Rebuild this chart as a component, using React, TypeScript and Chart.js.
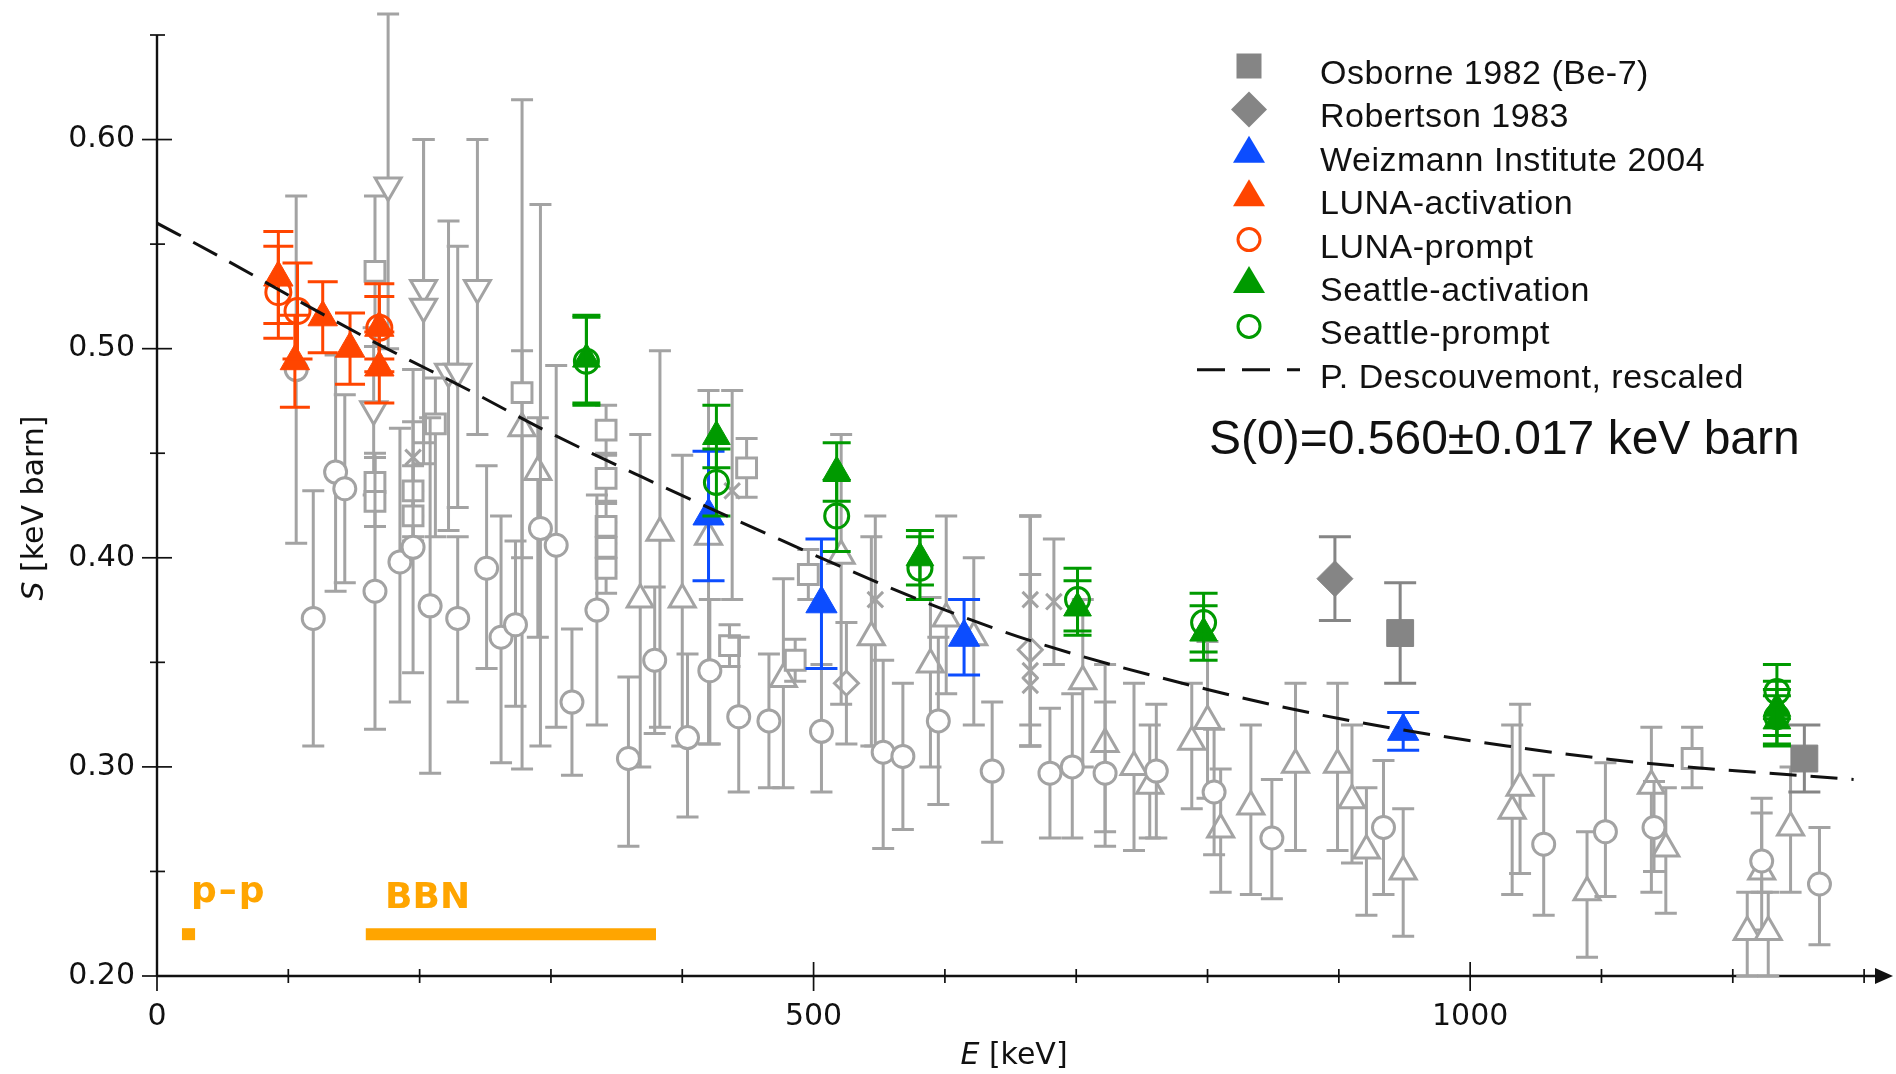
import React, { useEffect, useRef } from 'react';
import { Chart, registerables } from 'chart.js';

Chart.register(...registerables);

// ---------------- axis values ----------------
const xTickLabels = [0, 500, 1000];
const xMinorTicks = [0, 100, 200, 300, 400, 500, 600, 700, 800, 900, 1000, 1100, 1200, 1300];
const yTickLabels = [0.2, 0.3, 0.4, 0.5, 0.6];
const yMinorTicks = [0.2, 0.25, 0.3, 0.35, 0.4, 0.45, 0.5, 0.55, 0.6, 0.65];

// ---------------- highlighted data sets ----------------
const osborneE = [946.7, 1254.5];
const osborneS = [0.364, 0.304];
const osborneErr = [0.024, 0.016];

const robertsonE = [897];
const robertsonS = [0.39];
const robertsonErr = [0.02];

const weizmannE = [420, 506, 614.6, 949];
const weizmannS = [0.42, 0.378, 0.362, 0.317];
const weizmannErr = [0.031, 0.031, 0.018, 0.009];

const lunaActE = [92.4, 105, 126.2, 147, 169.3, 169.3];
const lunaActS = [0.534, 0.494, 0.515, 0.5, 0.51, 0.491];
const lunaActErr = [0.022, 0.022, 0.017, 0.017, 0.015, 0.017];

const lunaPromptE = [92.4, 107, 169.3];
const lunaPromptS = [0.527, 0.518, 0.51];
const lunaPromptErr = [0.022, 0.023, 0.021];

const seattleActE = [327, 426, 517.6, 581, 701, 797, 1233.6, 1233.6];
const seattleActS = [0.495, 0.458, 0.441, 0.4, 0.376, 0.364, 0.328, 0.322];
const seattleActErr = [0.021, 0.015, 0.014, 0.013, 0.013, 0.013, 0.013, 0.012];

const seattlePromptE = [327, 426, 517.6, 581, 701, 797, 1233.6, 1233.6];
const seattlePromptS = [0.494, 0.436, 0.42, 0.395, 0.38, 0.369, 0.336, 0.324];
const seattlePromptErr = [0.021, 0.016, 0.017, 0.015, 0.015, 0.014, 0.013, 0.013];

// ---------------- theory curve (P. Descouvemont, rescaled) ----------------
const curveE = [0, 45, 116, 172, 238, 292, 368, 420, 459, 520, 596, 672, 800, 901, 1028, 1130, 1292];
const curveS = [0.56, 0.545, 0.52, 0.501, 0.48, 0.462, 0.439, 0.424, 0.413, 0.396, 0.376, 0.359, 0.337, 0.323, 0.31, 0.302, 0.294];

// ---------------- energy ranges ----------------
const ppRangeE = [19, 29];
const bbnRangeE = [159, 380];
const rangeS = 0.22;

// ---------------- older data (grey) ----------------
const greyCircleE = [106, 119, 136, 143, 166, 185, 195, 208, 229, 251, 262, 273, 292, 304, 316, 335, 359, 379, 404, 421, 443, 466, 506, 553, 568, 595, 636, 680, 697, 722, 761, 805, 849, 934, 1056, 1103, 1140, 1222, 1266];
const greyCircleS = [0.49, 0.371, 0.441, 0.433, 0.384, 0.398, 0.405, 0.377, 0.371, 0.395, 0.362, 0.368, 0.414, 0.406, 0.331, 0.375, 0.304, 0.351, 0.314, 0.346, 0.324, 0.322, 0.317, 0.307, 0.305, 0.322, 0.298, 0.297, 0.3, 0.297, 0.298, 0.288, 0.266, 0.271, 0.263, 0.269, 0.271, 0.255, 0.244];
const greyCircleLo = [0.407, 0.31, 0.384, 0.388, 0.318, 0.331, 0.345, 0.297, 0.331, 0.347, 0.302, 0.329, 0.31, 0.319, 0.296, 0.32, 0.262, 0.316, 0.276, 0.311, 0.288, 0.29, 0.288, 0.261, 0.27, 0.282, 0.264, 0.266, 0.266, 0.269, 0.266, 0.258, 0.237, 0.239, 0.229, 0.238, 0.25, 0.24, 0.215];
const greyCircleHi = [0.573, 0.432, 0.497, 0.478, 0.45, 0.462, 0.465, 0.467, 0.41, 0.444, 0.42, 0.408, 0.569, 0.492, 0.366, 0.43, 0.343, 0.386, 0.354, 0.38, 0.362, 0.354, 0.349, 0.351, 0.34, 0.362, 0.331, 0.328, 0.335, 0.331, 0.33, 0.318, 0.294, 0.303, 0.296, 0.302, 0.293, 0.285, 0.271];

const greySquareE = [166, 166, 166, 195, 195, 212, 278, 342, 342, 342, 342, 342, 436, 449, 486, 496, 1169];
const greySquareS = [0.537, 0.436, 0.427, 0.432, 0.42, 0.464, 0.479, 0.461, 0.438, 0.415, 0.405, 0.395, 0.358, 0.443, 0.351, 0.392, 0.304];
const greySquareLo = [0.501, 0.424, 0.415, 0.42, 0.408, 0.41, 0.299, 0.449, 0.426, 0.403, 0.393, 0.383, 0.348, 0.429, 0.341, 0.38, 0.29];
const greySquareHi = [0.573, 0.448, 0.439, 0.444, 0.432, 0.486, 0.619, 0.473, 0.45, 0.427, 0.417, 0.407, 0.368, 0.457, 0.361, 0.404, 0.319];

const greyTriE = [278, 290, 368, 383, 400, 420, 477, 521, 544, 589, 601, 622, 705, 722, 744, 756, 788, 800, 810, 833, 867, 899, 910, 921, 949, 1032, 1038, 1089, 1138, 1149, 1211, 1222, 1227, 1244];
const greyTriS = [0.462, 0.441, 0.38, 0.412, 0.38, 0.41, 0.342, 0.401, 0.362, 0.349, 0.371, 0.362, 0.341, 0.311, 0.3, 0.291, 0.312, 0.322, 0.27, 0.281, 0.301, 0.301, 0.284, 0.26, 0.25, 0.279, 0.29, 0.24, 0.291, 0.261, 0.221, 0.25, 0.221, 0.271];
const greyTriLo = [0.4, 0.362, 0.3, 0.319, 0.31, 0.311, 0.29, 0.33, 0.31, 0.3, 0.335, 0.32, 0.3, 0.262, 0.26, 0.266, 0.28, 0.285, 0.24, 0.239, 0.26, 0.26, 0.254, 0.229, 0.219, 0.239, 0.249, 0.209, 0.24, 0.23, 0.2, 0.222, 0.2, 0.24];
const greyTriHi = [0.499, 0.467, 0.459, 0.499, 0.449, 0.48, 0.39, 0.459, 0.41, 0.381, 0.42, 0.4, 0.38, 0.349, 0.34, 0.32, 0.34, 0.36, 0.299, 0.32, 0.34, 0.34, 0.32, 0.29, 0.28, 0.32, 0.33, 0.269, 0.319, 0.29, 0.24, 0.278, 0.24, 0.3];

const greyInvE = [165, 176, 203, 203, 222, 229, 244];
const greyInvS = [0.471, 0.578, 0.529, 0.52, 0.489, 0.489, 0.529];
const greyInvLo = [0.43, 0.5, 0.455, 0.445, 0.413, 0.424, 0.459];
const greyInvHi = [0.51, 0.66, 0.6, 0.6, 0.561, 0.549, 0.6];

const greyCrossE = [195, 438, 547, 665, 665, 665, 683];
const greyCrossS = [0.448, 0.432, 0.38, 0.38, 0.346, 0.339, 0.379];
const greyCrossLo = [0.41, 0.38, 0.31, 0.31, 0.31, 0.31, 0.349];
const greyCrossHi = [0.49, 0.48, 0.42, 0.42, 0.42, 0.42, 0.409];

const greyDiamondE = [525, 665];
const greyDiamondS = [0.34, 0.356];
const greyDiamondLo = [0.311, 0.32];
const greyDiamondHi = [0.369, 0.392];

// ---------------- styling ----------------
const GREY = '#a3a3a3';
const DARK_GREY = '#858585';
const RED = '#ff4500';
const BLUE = '#0c4dff';
const GREEN = '#009a00';
const ORANGE = '#ffa500';
const TXT = '#111111';

const pts = (E: number[], S: number[]) => E.map((e, i) => ({ x: e, y: S[i] }));
const sub = (S: number[], err: number[]) => S.map((s, i) => s - err[i]);
const add = (S: number[], err: number[]) => S.map((s, i) => s + err[i]);

const errorBarPlugin = {
  id: 'errorBars',
  beforeDatasetDraw(chart: any, args: any) {
    const ds = chart.data.datasets[args.index];
    if (!ds.errLo) return;
    const ctx = chart.ctx;
    const yScale = chart.scales.y;
    ctx.save();
    ctx.strokeStyle = ds.errColor;
    ctx.lineWidth = ds.errWidth || 3;
    ctx.lineCap = 'butt';
    args.meta.data.forEach((p: any, i: number) => {
      const x = p.x;
      const yl = yScale.getPixelForValue(ds.errLo[i]);
      const yh = yScale.getPixelForValue(ds.errHi[i]);
      const c = ds.capHalf;
      ctx.beginPath();
      ctx.moveTo(x, yl);
      ctx.lineTo(x, yh);
      ctx.moveTo(x - c, yl);
      ctx.lineTo(x + c, yl);
      ctx.moveTo(x - c, yh);
      ctx.lineTo(x + c, yh);
      ctx.stroke();
    });
    ctx.restore();
  },
};

const axesPlugin = {
  id: 'customAxes',
  beforeDatasetsDraw(chart: any) {
    const { ctx, chartArea } = chart;
    const xs = chart.scales.x;
    const ys = chart.scales.y;
    const x0 = xs.getPixelForValue(0);
    const yb = ys.getPixelForValue(0.2);
    const yt = ys.getPixelForValue(0.65);
    const xr = chartArea.right;
    ctx.save();
    ctx.strokeStyle = TXT;
    ctx.fillStyle = TXT;
    ctx.lineWidth = 2.4;
    ctx.beginPath();
    ctx.moveTo(x0, yb);
    ctx.lineTo(x0, yt);
    ctx.moveTo(x0, yb);
    ctx.lineTo(xr - 12, yb);
    ctx.stroke();
    ctx.beginPath();
    ctx.moveTo(xr, yb);
    ctx.lineTo(xr - 18, yb - 8);
    ctx.lineTo(xr - 18, yb + 8);
    ctx.closePath();
    ctx.fill();
    ctx.lineWidth = 1.7;
    yMinorTicks.forEach((v) => {
      const py = ys.getPixelForValue(v);
      const major = yTickLabels.some((t) => Math.abs(t - v) < 1e-6);
      ctx.beginPath();
      ctx.moveTo(x0 - (major ? 15 : 7), py);
      ctx.lineTo(x0 + (major ? 15 : 8), py);
      ctx.stroke();
    });
    xMinorTicks.forEach((v) => {
      const px = xs.getPixelForValue(v);
      const major = xTickLabels.includes(v);
      ctx.beginPath();
      ctx.moveTo(px, yb - (major ? 14 : 7));
      ctx.lineTo(px, yb + (major ? 15 : 7));
      ctx.stroke();
    });
    ctx.restore();
  },
};

function greySet(E: number[], S: number[], lo: number[], hi: number[], style: string, radius: number, rotation = 0) {
  return {
    label: 'older data',
    data: pts(E, S),
    errLo: lo,
    errHi: hi,
    errColor: GREY,
    errWidth: 3,
    capHalf: 11,
    pointStyle: style,
    pointRadius: radius,
    pointRotation: rotation,
    pointBorderWidth: 3,
    pointBorderColor: GREY,
    pointBackgroundColor: '#ffffff',
    order: 10,
    clip: false,
  };
}

function colorSet(label: string, E: number[], S: number[], err: number[], color: string, style: string, radius: number, filled: boolean, capHalf: number, order: number) {
  return {
    label,
    data: pts(E, S),
    errLo: sub(S, err),
    errHi: add(S, err),
    errColor: color,
    errWidth: 3,
    capHalf,
    pointStyle: style,
    pointRadius: radius,
    pointBorderWidth: filled ? 1 : 3,
    pointBorderColor: color,
    pointBackgroundColor: filled ? color : 'rgba(0,0,0,0)',
    order,
    clip: false,
  };
}

const legendRows = [
  'Osborne 1982 (Be-7)',
  'Robertson 1983',
  'Weizmann Institute 2004',
  'LUNA-activation',
  'LUNA-prompt',
  'Seattle-activation',
  'Seattle-prompt',
  'P. Descouvemont, rescaled',
];
const legendY = [72, 115.4, 158.8, 202.2, 245.6, 289, 332.4, 375.8];

function LegendMarkers() {
  const mx = 1249;
  const c = legendY.map((y) => y - 6);
  const tri = (cy: number, color: string) => (
    <polygon points={`${mx},${cy - 17} ${mx + 16},${cy + 10} ${mx - 16},${cy + 10}`} fill={color} />
  );
  return (
    <svg width={1896} height={1074} style={{ position: 'absolute', left: 0, top: 0, pointerEvents: 'none' }}>
      <rect x={mx - 12.5} y={c[0] - 12.5} width={25} height={25} fill={DARK_GREY} />
      <polygon points={`${mx},${c[1] - 18} ${mx + 18},${c[1]} ${mx},${c[1] + 18} ${mx - 18},${c[1]}`} fill={DARK_GREY} />
      {tri(c[2], BLUE)}
      {tri(c[3], RED)}
      <circle cx={mx} cy={c[4]} r={11} fill="none" stroke={RED} strokeWidth={3} />
      {tri(c[5], GREEN)}
      <circle cx={mx} cy={c[6]} r={11} fill="none" stroke={GREEN} strokeWidth={3} />
      <line x1={1197} y1={c[7]} x2={1300} y2={c[7]} stroke={TXT} strokeWidth={3} strokeDasharray="28 17" />
    </svg>
  );
}

export default function App() {
  const canvasRef = useRef<HTMLCanvasElement | null>(null);

  useEffect(() => {
    if (!canvasRef.current) return;
    const datasets: any[] = [
      {
        label: 'P. Descouvemont, rescaled',
        data: pts(curveE, curveS),
        showLine: true,
        borderColor: TXT,
        borderWidth: 3,
        borderDash: [27, 14],
        pointRadius: 0,
        cubicInterpolationMode: 'monotone',
        fill: false,
        order: 0,
      },
      colorSet('Seattle-activation', seattleActE, seattleActS, seattleActErr, GREEN, 'triangle', 16, true, 14, 2),
      colorSet('Seattle-prompt', seattlePromptE, seattlePromptS, seattlePromptErr, GREEN, 'circle', 12, false, 14, 1),
      colorSet('LUNA-activation', lunaActE, lunaActS, lunaActErr, RED, 'triangle', 17, true, 15, 2),
      colorSet('LUNA-prompt', lunaPromptE, lunaPromptS, lunaPromptErr, RED, 'circle', 12.5, false, 15, 1),
      colorSet('Weizmann Institute 2004', weizmannE, weizmannS, weizmannErr, BLUE, 'triangle', 18, true, 16, 3),
      colorSet('Robertson 1983', robertsonE, robertsonS, robertsonErr, DARK_GREY, 'rectRot', 18, true, 16, 4),
      colorSet('Osborne 1982 (Be-7)', osborneE, osborneS, osborneErr, DARK_GREY, 'rect', 19, true, 16, 4),
      {
        label: 'p-p',
        data: ppRangeE.map((e) => ({ x: e, y: rangeS })),
        showLine: true,
        borderColor: ORANGE,
        borderWidth: 12,
        borderCapStyle: 'butt',
        pointRadius: 0,
        order: 6,
      },
      {
        label: 'BBN',
        data: bbnRangeE.map((e) => ({ x: e, y: rangeS })),
        showLine: true,
        borderColor: ORANGE,
        borderWidth: 12,
        borderCapStyle: 'butt',
        pointRadius: 0,
        order: 6,
      },
      greySet(greyCircleE, greyCircleS, greyCircleLo, greyCircleHi, 'circle', 11),
      greySet(greySquareE, greySquareS, greySquareLo, greySquareHi, 'rect', 14),
      greySet(greyTriE, greyTriS, greyTriLo, greyTriHi, 'triangle', 15),
      greySet(greyInvE, greyInvS, greyInvLo, greyInvHi, 'triangle', 15, 180),
      greySet(greyCrossE, greyCrossS, greyCrossLo, greyCrossHi, 'crossRot', 11),
      greySet(greyDiamondE, greyDiamondS, greyDiamondLo, greyDiamondHi, 'rectRot', 12),
    ];

    const tickFont = { family: "'DejaVu Sans', sans-serif", size: 30 };
    const chart = new Chart(canvasRef.current, {
      type: 'scatter',
      data: { datasets },
      options: {
        responsive: false,
        animation: false,
        devicePixelRatio: 1,
        events: [],
        layout: { autoPadding: false, padding: { top: 35, right: 3, left: 0, bottom: 0 } },
        plugins: { legend: { display: false }, tooltip: { enabled: false } },
        scales: {
          x: {
            type: 'linear',
            min: 0,
            max: 1322,
            grid: { display: true, drawOnChartArea: false, drawTicks: true, tickLength: 15, color: 'rgba(0,0,0,0)' },
            border: { display: false },
            afterBuildTicks: (s: any) => {
              s.ticks = xTickLabels.map((v) => ({ value: v }));
            },
            afterFit: (s: any) => {
              s.height = 98;
              s.paddingLeft = 0;
              s.paddingRight = 0;
            },
            ticks: {
              font: tickFont,
              color: TXT,
              padding: 8,
              maxRotation: 0,
              autoSkip: false,
              callback: (v: any) => String(v),
            },
          },
          y: {
            type: 'linear',
            min: 0.2,
            max: 0.65,
            grid: { display: true, drawOnChartArea: false, drawTicks: true, tickLength: 15, color: 'rgba(0,0,0,0)' },
            border: { display: false },
            afterBuildTicks: (s: any) => {
              s.ticks = yTickLabels.map((v) => ({ value: v }));
            },
            afterFit: (s: any) => {
              s.width = 157;
              s.paddingTop = 0;
              s.paddingBottom = 0;
            },
            ticks: {
              font: tickFont,
              color: TXT,
              padding: 7,
              autoSkip: false,
              callback: (v: any) => Number(v).toFixed(2),
            },
          },
        },
      } as any,
      plugins: [axesPlugin, errorBarPlugin],
    });
    return () => chart.destroy();
  }, []);

  const legendFont = "'Liberation Sans', Arial, Helvetica, sans-serif";
  return (
    <div style={{ position: 'fixed', left: 0, top: 0, width: 1896, height: 1074, background: '#ffffff', overflow: 'hidden' }}>
      <canvas ref={canvasRef} width={1896} height={1074} style={{ position: 'absolute', left: 0, top: 0, width: 1896, height: 1074 }} />
      <LegendMarkers />
      {legendRows.map((t, i) => (
        <div
          key={t}
          style={{
            position: 'absolute',
            left: 1320,
            top: legendY[i] - 17,
            fontFamily: legendFont,
            fontSize: 34,
            lineHeight: '34px',
            letterSpacing: '0.5px',
            color: TXT,
            whiteSpace: 'nowrap',
          }}
        >
          {t}
        </div>
      ))}
      <div
        style={{
          position: 'absolute',
          left: 1209,
          top: 414,
          fontFamily: legendFont,
          fontSize: 48,
          lineHeight: '48px',
          color: TXT,
          whiteSpace: 'nowrap',
        }}
      >
        S(0)=0.560±0.017 keV barn
      </div>
      <div
        style={{
          position: 'absolute',
          left: 33,
          top: 508,
          transform: 'translate(-50%, -50%) rotate(-90deg)',
          fontFamily: "'DejaVu Sans', sans-serif",
          fontSize: 30,
          lineHeight: '30px',
          color: TXT,
          whiteSpace: 'nowrap',
        }}
      >
        <i>S</i> [keV barn]
      </div>
      <div
        style={{
          position: 'absolute',
          left: 1014,
          top: 1054,
          transform: 'translate(-50%, -50%)',
          fontFamily: "'DejaVu Sans', sans-serif",
          fontSize: 30,
          lineHeight: '30px',
          color: TXT,
          whiteSpace: 'nowrap',
        }}
      >
        <i>E</i> [keV]
      </div>
      <div
        style={{
          position: 'absolute',
          left: 191,
          top: 872,
          fontFamily: "'DejaVu Sans', sans-serif",
          fontWeight: 'bold',
          fontSize: 36,
          lineHeight: '36px',
          letterSpacing: '2px',
          color: ORANGE,
          whiteSpace: 'nowrap',
        }}
      >
        p–p
      </div>
      <div
        style={{
          position: 'absolute',
          left: 385,
          top: 878,
          fontFamily: "'DejaVu Sans', sans-serif",
          fontWeight: 'bold',
          fontSize: 36,
          lineHeight: '36px',
          color: ORANGE,
          whiteSpace: 'nowrap',
        }}
      >
        BBN
      </div>
    </div>
  );
}
